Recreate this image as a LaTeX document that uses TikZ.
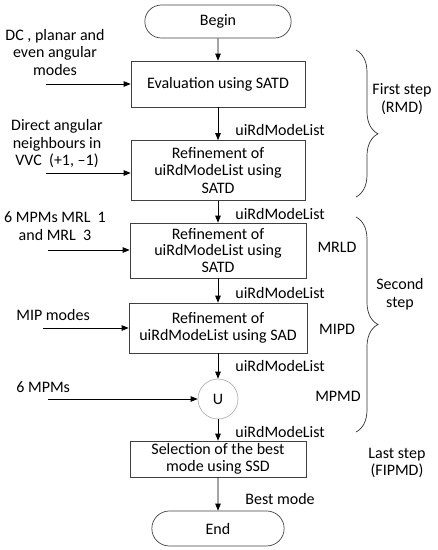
\documentclass[tikz,border=0pt]{standalone}
\usepackage{fontspec}
\setmainfont{Carlito}
\usetikzlibrary{arrows.meta, shapes.misc, decorations.pathreplacing}

\begin{document}
\begin{tikzpicture}[x=1pt, y=-1pt, >={Triangle[length=7pt,width=5.5pt]}, line width=0.7pt,
  every node/.style={font=\fontsize{16}{17.5}\selectfont},
  proc/.style={draw=black!75, rectangle, align=center, inner sep=1pt},
  term/.style={draw=black!75, rounded rectangle, minimum width=153pt, minimum height=33pt},
  lst/.style={right, inner sep=0pt},
  grp/.style={draw=black!80, decorate, decoration={brace, amplitude=22pt, aspect=#1}}]
  \useasboundingbox (0,0) rectangle (438,550);
  % Main flow
  \node[term] (begin) at (218,21.5) {Begin};
  \node[proc, minimum width=174pt, minimum height=46pt] (eval) at (218,84) {Evaluation using SATD};
  \node[proc, minimum width=174pt, minimum height=60pt] (ref1) at (218,170.5) {Refinement of\\uiRdModeList using\\SATD};
  \node[proc, minimum width=176pt, minimum height=55pt, font=\fontsize{16}{16.5}\selectfont] (ref2) at (218,250.5) {Refinement of\\uiRdModeList using\\SATD};
  \node[proc, minimum width=178pt, minimum height=50pt] (ref3) at (218,328) {Refinement of\\uiRdModeList using SAD};
  \node[circle, draw=black!30, minimum size=40pt, inner sep=0pt] (uni) at (218,399) {U};
  \node[proc, minimum width=176pt, minimum height=36pt] (sel) at (218,459) {Selection of the best\\mode using SSD};
  \node[term, minimum width=139pt, minimum height=35pt] (end) at (218,528.5) {End};
  \draw[->] (begin) -- (eval); \draw[->] (eval) -- (ref1);
  \draw[->] (ref1) -- (ref2); \draw[->] (ref2) -- (ref3);
  \draw[->] (ref3) -- (uni); \draw[->] (uni) -- (sel);
  \draw[->] (sel) -- (end);
  % Lists between the blocks
  \node[lst] (l1) at (235,130) {uiRdModeList};
  \node[lst] (l2) at (235,214) {uiRdModeList};
  \node[lst] (l3) at (235,293) {uiRdModeList};
  \node[lst] (l4) at (235,366) {uiRdModeList};
  \node[lst] (l5) at (235,432) {uiRdModeList};
  \node[lst] (l6) at (245,499) {Best mode};
  % Inputs
  \node[align=center] (t1) at (55,52) {DC , planar and\\even angular\\modes};
  \coordinate (s1) at (46,84); \draw[->] (s1) -- (eval.west);
  \node[align=center] (t2) at (57,144) {Direct angular\\neighbours in\\VVC\ \ (+1, –1)};
  \coordinate (s2) at (46,173); \draw[->] (s2) -- (s2 -| ref1.west);
  \node[align=center] (t3) at (55,226) {6 MPMs MRL\ \ 1\\and MRL\ \ 3};
  \coordinate (s3) at (48,250); \draw[->] (s3) -- (s3 -| ref2.west);
  \node[lst] (t4) at (16,315) {MIP modes};
  \coordinate (s4) at (43,328); \draw[->] (s4) -- (s4 -| ref3.west);
  \node[lst] (t5) at (16,387) {6 MPMs};
  \coordinate (s5) at (48,399); \draw[->] (s5) -- (uni);
  % Steps
  \draw[grp=0.57] (356,50) -- (356,197);
  \draw[grp=0.5] (356,217) -- (356,432);
  \node[align=center] (st1) at (402,99) {First step\\(RMD)};
  \node[align=center] (st2) at (400,294) {Second\\step};
  \node (mrld) at (337,247) {MRLD};
  \node (mipd) at (337,329) {MIPD};
  \node (mpmd) at (338,396) {MPMD};
  \node[align=center] (st3) at (397,463) {Last step\\(FIPMD)};
\end{tikzpicture}
\end{document}
